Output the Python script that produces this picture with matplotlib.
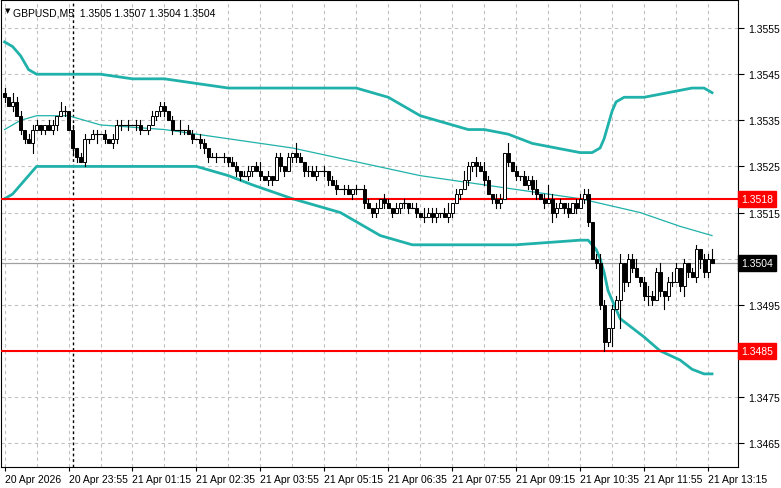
import matplotlib
matplotlib.use("Agg")
import matplotlib.pyplot as plt
from matplotlib.patches import Rectangle
from matplotlib.ticker import FixedLocator

title = "GBPUSD,M5  1.3505 1.3507 1.3504 1.3504"
closes = [1.3540,1.3538,1.3539,1.3536,1.3533,1.3531,1.3530,1.3533,1.3534,1.3533,
 1.3534,1.3533,1.3534,1.3536,1.3537,1.3537,1.3533,1.3529,1.3527,1.3526,
 1.3531,1.3531,1.3532,1.3532,1.3532,1.3531,1.3530,1.3531,1.3534,1.3534,
 1.3534,1.3534,1.3534,1.3534,1.3533,1.3533,1.3534,1.3536,1.3537,1.3538,
 1.3537,1.3535,1.3533,1.3533,1.3533,1.3533,1.3532,1.3531,1.3531,1.3530,
 1.3529,1.3527,1.3527,1.3527,1.3527,1.3527,1.3526,1.3525,1.3524,1.3523,
 1.3523,1.3524,
 1.3525,1.3524,1.3523,1.3522,1.3523,1.3522,1.3527,1.3525,1.3524,1.3527,
 1.3528,1.3527,1.3526,1.3524,1.3524,1.3523,1.3524,1.3524,1.3524,1.3522,
 1.3521,1.3520,1.3520,1.3520,1.3519,1.3520,1.3520,1.3520,1.3517,1.3516,
 1.3515,1.3516,1.3518,1.3517,1.3516,1.3515,1.3516,1.3517,1.3517,1.3516,
 1.3516,1.3515,1.3514,1.3514,1.3515,1.3514,1.3515,1.3515,1.3514,1.3515,
 1.3517,1.3519,1.3520,1.3522,1.3525,1.3526,1.3525,1.3524,1.3522,
 1.3519,1.3518,1.3517,1.3518,1.3528,1.3526,1.3524,1.3523,
 1.3523,1.3521,1.3522,1.3520,1.3519,1.3518,1.3517,1.3518,
 1.3515,1.3516,1.3517,1.3516,1.3515,1.3517,1.3516,1.3518,1.3519,
 1.3513,1.3505,1.3504,1.3495,1.3487,1.3490,1.3494,1.3496,1.3504,1.3500,
 1.3505,1.3503,1.3501,1.3500,1.3497,1.3497,1.3496,1.3502,1.3498,1.3497,
 1.3500,1.3500,1.3503,1.3499,1.3504,1.3502,1.3501,1.3507,1.3505,1.3502,
 1.3505,1.3504]
first_open = 1.3541
wick_up = ("1021101110" "0110210101" "1011010111" "0101100101" "1010201101"
           "1011010110" "1101201011" "0102101110" "1011011010" "1101011010"
           "1011021110" "1201021011" "2101102010" "1112013111" "0101111012"
           "1011201120" "1211201210" "10110112")
wick_dn = ("1010110201" "1011010110" "1102010111" "0101101011" "1010110101"
           "1101011011" "0110101101" "1011011010" "1101010110" "1011010101"
           "1101010111" "0110101120" "1011101011" "0111010210" "1101011011"
           "2140621101" "1210131101" "21012110")

up_lvl = [0,2,4,6,8,16,24,32,40,48,56,72,88,92,96,100,104,108,112,116,120,126,132,138,144,147,149,150,151,152,153,155,160,166,172,175,177]
up_val = [1.3552,1.3551,1.3549,1.3546,1.3545,1.3545,1.3545,1.3544,1.3544,1.3543,1.3542,1.3542,1.3542,1.3541,1.3540,1.3538,1.3536,1.3535,1.3534,1.3533,1.3533,1.3532,1.3530,1.3529,1.3528,1.3528,1.3529,1.3531,1.3534,1.3537,1.3539,1.3540,1.3540,1.3541,1.3542,1.3542,1.3541]
mid_lvl = [0,4,8,16,24,40,56,72,88,104,120,136,144,149,159,169,177]
mid_val = [1.3533,1.3535,1.3536,1.3536,1.3534,1.3533,1.3531,1.3529,1.3526,1.3523,1.3521,1.3519,1.3518,1.3517,1.3515,1.3512,1.3510]
lo_lvl = [0,2,4,6,8,12,16,24,40,48,56,62,72,84,90,94,98,102,112,128,144,146,148,149,150,151,152,154,157,160,164,169,172,175,177]
lo_val = [1.3518,1.3519,1.3521,1.3523,1.3525,1.3525,1.3525,1.3525,1.3525,1.3525,1.3523,1.3521,1.3518,1.3515,1.3512,1.3510,1.3509,1.3508,1.3508,1.3508,1.3509,1.3509,1.3507,1.3505,1.3502,1.3498,1.3496,1.3492,1.3490,1.3488,1.3485,1.3483,1.3481,1.3480,1.3480]

levels = [1.3518, 1.3485]
current = 1.3504
yticks = [1.3555,1.3545,1.3535,1.3525,1.3515,1.3505,1.3495,1.3485,1.3475,1.3465]
xlabels = ["20 Apr 2026","20 Apr 23:55","21 Apr 01:15","21 Apr 02:35","21 Apr 03:55",
           "21 Apr 05:15","21 Apr 06:35","21 Apr 07:55","21 Apr 09:15","21 Apr 10:35",
           "21 Apr 11:55","21 Apr 13:15"]

fig = plt.figure(figsize=(7.81, 4.89), dpi=100)
W, H = 781, 489
ax = fig.add_axes([1/W, 1 - 468/H, 737/W, 467/H])
ax.set_xlim(-0.9, 183.5)
ax.set_ylim(1.34598, 1.35611)

teal = "#20b2aa"
for y in yticks:
    ax.axhline(y, color="#c0c0c0", lw=0.8, ls=(0, (3, 3)), zorder=0)
for i in range(0, 184, 8):
    ax.axvline(i, color="#c0c0c0", lw=0.8, ls=(0, (3, 3)), zorder=0)

ax.plot(up_lvl, up_val, color=teal, lw=2, zorder=2)
ax.plot(lo_lvl, lo_val, color=teal, lw=2, zorder=2)
ax.plot(mid_lvl, mid_val, color=teal, lw=0.9, zorder=2)

for lv in levels:
    ax.axhline(lv, color="red", lw=1.5, zorder=3)
ax.axhline(current, color="#a0a0a0", lw=0.9, zorder=1)
ax.axvline(17, color="black", lw=1, ls=(0, (2, 2)), zorder=1)

prev = first_open
wu = wick_up.ljust(len(closes), "1")
wd = wick_dn.ljust(len(closes), "1")
for i, c in enumerate(closes):
    o = prev
    hi = max(o, c) + int(wu[i]) * 0.0001
    lo = min(o, c) - int(wd[i]) * 0.0001
    ax.plot([i, i], [lo, hi], color="black", lw=0.8, zorder=4)
    bh = abs(c - o)
    if bh < 0.00002:
        ax.plot([i - 0.4, i + 0.4], [c, c], color="black", lw=0.8, zorder=5)
    else:
        ax.add_patch(Rectangle((i - 0.38, min(o, c)), 0.76, bh,
                               facecolor="black" if c < o else "white",
                               edgecolor="black", lw=0.7, zorder=5))
    prev = c

lab_font = ["Liberation Sans", "DejaVu Sans"]
ax.yaxis.tick_right()
ax.yaxis.set_major_locator(FixedLocator(yticks))
ax.set_yticklabels(["" if y in (1.3505, 1.3485) else f"{y:.4f}" for y in yticks],
                   fontsize=7.5, family=lab_font)
ax.tick_params(axis="y", length=4, pad=3)
ax.xaxis.set_major_locator(FixedLocator(list(range(0, 16 * len(xlabels), 16))))
ax.set_xticklabels(xlabels, fontsize=7.5, ha="left", family=lab_font)
ax.tick_params(axis="x", length=3, pad=2)
for s in ax.spines.values():
    s.set_color("black")

for lv in levels:
    ax.text(1.004, lv, f"{lv:.4f}", transform=ax.get_yaxis_transform(), fontsize=7.5,
            family=lab_font, color="white", va="center", ha="left",
            bbox=dict(boxstyle="square,pad=0.3", fc="red", ec="red"), zorder=10, clip_on=False)
ax.text(1.004, current, f"{current:.4f}", transform=ax.get_yaxis_transform(), fontsize=7.5,
        family=lab_font, color="white", va="center", ha="left",
        bbox=dict(boxstyle="square,pad=0.3", fc="black", ec="black"), zorder=10, clip_on=False)

ax.text(0.016, 0.985, title, transform=ax.transAxes, fontsize=7.5, family=lab_font, va="top", ha="left")
ax.text(0.005, 0.985, "▼", transform=ax.transAxes, fontsize=5, va="top", ha="left")

fig.savefig("out.png", dpi=100)
